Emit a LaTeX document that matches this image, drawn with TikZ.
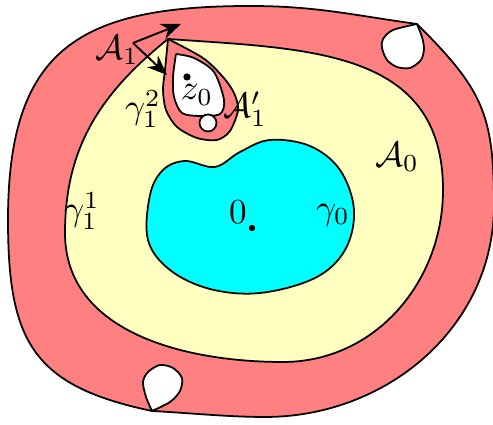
\documentclass[tikz,border=0pt]{standalone}
\usepackage{amsmath,amsfonts}
\usepackage{tikz}
\usepackage{xcolor}
\usetikzlibrary{arrows.meta}
\definecolor{annred}{RGB}{255,128,128}
\definecolor{annyellow}{RGB}{255,255,192}
\definecolor{diskcyan}{RGB}{0,255,255}
\begin{document}
\begin{tikzpicture}[x=0.01cm, y=-0.01cm,
    region/.style={draw, line width=0.5pt, line join=round},
    hole/.style={region, fill=white},
    lbl/.style={inner sep=0pt},
    arr/.style={-{Stealth[length=2mm, width=1.6mm]}, line width=0.55pt}
]
\useasboundingbox (0,0) rectangle (493,425);
% outer annulus A_1
\path[region, fill=annred] (417,24) .. controls (352,15) and (316,6) .. (250,6)
  .. controls (79,6) and (8,49) .. (8,220)
  .. controls (8,342) and (33,386) .. (152,411)
  .. controls (190,413) and (228,417) .. (265,417)
  .. controls (387,417) and (494,327) .. (494,205)
  .. controls (494,113) and (482,89) .. (417,24) -- cycle;
% A_0 between gamma_1^1 and gamma_0
\path[region, fill=annyellow] (168,39) .. controls (309,49) and (443,49) .. (443,190)
  .. controls (443,282) and (375,362) .. (283,362)
  .. controls (184,362) and (65,332) .. (65,233)
  .. controls (65,147) and (101,93) .. (168,39) -- cycle;
% disc around 0
\path[region, fill=diskcyan] plot[smooth cycle, tension=0.6] coordinates {(150,195) (163,170) (185,161) (215,167) (240,152) (270,140) (310,146) (340,170) (354,210) (345,250) (315,278) (260,293) (210,289) (170,270) (148,240)};
% small annulus A_1'
\path[region, fill=annred] plot[smooth] coordinates {(168,39) (165,70) (163,90) (166,110) (177,127) (197,138) (217,140) (230,131) (238,110) (234,93) (223,77) (203,58) (168,39)};
\path[hole] plot[smooth] coordinates {(176,54) (173,77) (174,97) (182,113) (200,116) (220,114) (224,100) (214,72) (194,58) (176,54)};
\path[hole] (208,123) circle[radius=8.5];
% holes touching the outer boundary
\path[hole] plot[smooth] coordinates {(417,24) (393,30) (383,39) (382,48) (387,60) (397,67) (410,68) (421,60) (424,49) (422,37) (417,24)};
\path[hole] plot[smooth] coordinates {(152,411) (146,397) (143,382) (148,372) (160,365) (173,368) (182,378) (180,391) (170,402) (152,411)};
% points
\fill (187,77) circle[radius=3.6];
\fill (252,228) circle[radius=3.2];
% labels
\node[lbl] (a1) at (117,50) {$\mathcal{A}_1$};
\node[lbl] (g12) at (143,109) {$\gamma_1^2$};
\node[lbl] (z0) at (197,95) {$z_0$};
\node[lbl] (a1p) at (245,109) {$\mathcal{A}_1'$};
\node[lbl] (g11) at (82,211) {$\gamma_1^1$};
\node[lbl] (zero) at (238,212) {$0$};
\node[lbl] (g0) at (333,215) {$\gamma_0$};
\node[lbl] (a0) at (397,157) {$\mathcal{A}_0$};
% arrows from A_1
\coordinate (fork) at (133,43);
\coordinate (upTip) at (181,24);
\coordinate (downTip) at (167,75);
\draw[arr] (fork) -- (upTip);
\draw[arr] (fork) -- (downTip);
\end{tikzpicture}
\end{document}
